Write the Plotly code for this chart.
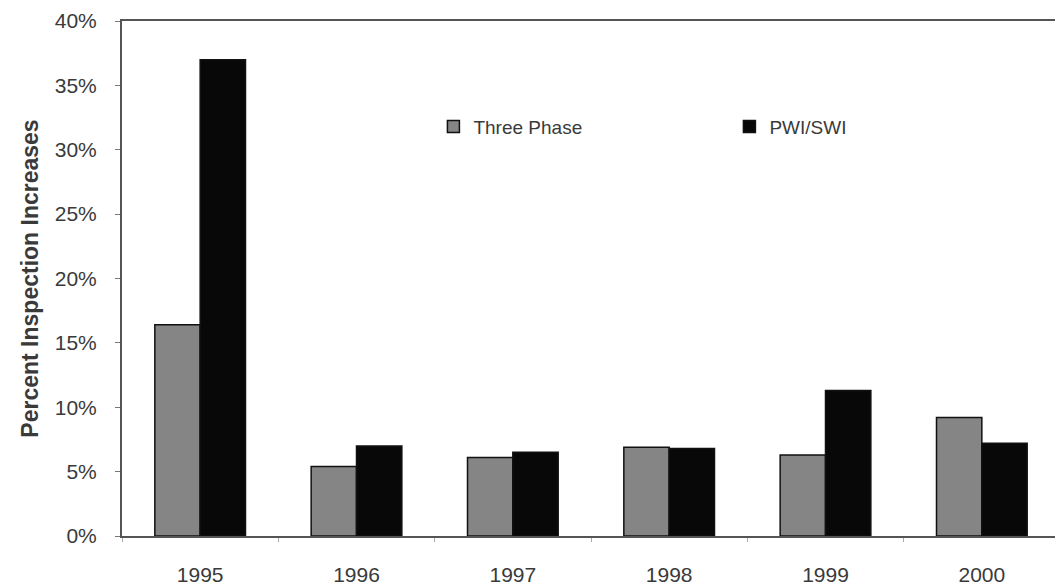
import plotly.graph_objects as go

years = ["1995", "1996", "1997", "1998", "1999", "2000"]
three_phase = [0.164, 0.054, 0.061, 0.069, 0.063, 0.092]
pwi_swi = [0.370, 0.070, 0.065, 0.068, 0.113, 0.072]

fig = go.Figure()
fig.add_trace(go.Bar(x=years, y=three_phase, name="Three Phase",
                     marker=dict(color="#858585", line=dict(color="#111111", width=1.5))))
fig.add_trace(go.Bar(x=years, y=pwi_swi, name="PWI/SWI",
                     marker=dict(color="#080808", line=dict(color="#111111", width=1.5))))

# page body adds ~8px offset, so size the figure a bit smaller than the window
fig.update_layout(
    width=1055, height=579,
    margin=dict(l=114, r=1, t=13, b=51),
    paper_bgcolor="white", plot_bgcolor="white",
    font=dict(family="Liberation Sans, Arial, sans-serif", size=21, color="#3a3a3a"),
    barmode="group", bargap=0.42, bargroupgap=0,
    showlegend=True,
    legend=dict(orientation="h", x=0.332, y=0.795, xanchor="left", yanchor="middle",
                entrywidth=251, entrywidthmode="pixels",
                font=dict(size=19, color="#3a3a3a"), bgcolor="rgba(0,0,0,0)",
                itemwidth=30),
)
fig.update_xaxes(showline=True, linecolor="#555555", linewidth=2, mirror=True,
                 ticks="outside", tickson="boundaries", ticklen=4, tickcolor="#aaaaaa",
                 showgrid=False, ticklabelstandoff=19, automargin=False,
                 range=[-0.5, 5.5])
fig.update_yaxes(range=[0, 0.40], dtick=0.05, tickformat=".0%",
                 showline=True, linecolor="#555555", linewidth=2, mirror=True,
                 ticks="outside", ticklen=5, tickcolor="#777777",
                 showgrid=False, zeroline=False, ticklabelstandoff=14,
                 title=dict(text="<b>Percent Inspection Increases</b>",
                            font=dict(size=23, color="#3a3a3a"), standoff=10))

fig.write_html("out.html")
